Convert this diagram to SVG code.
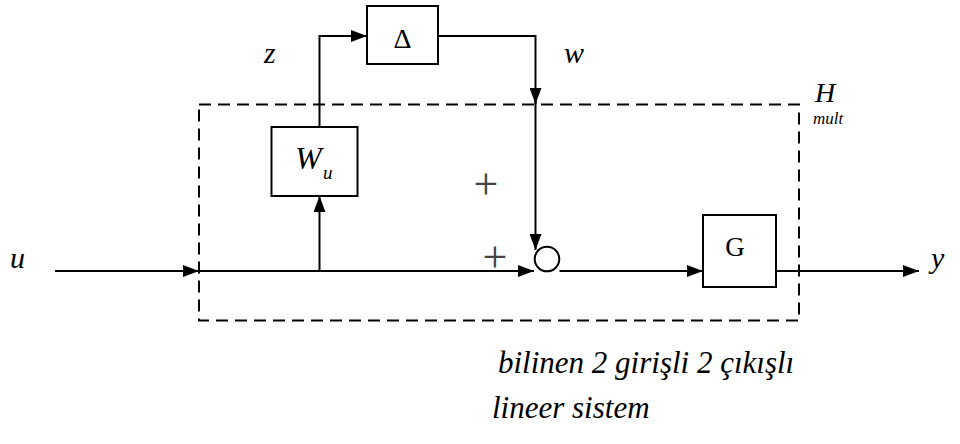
<svg xmlns="http://www.w3.org/2000/svg" width="960" height="444" viewBox="0 0 960 444">
<defs>
<marker id="ah" markerWidth="16" markerHeight="12" refX="16" refY="6" orient="auto" markerUnits="userSpaceOnUse">
<path d="M0,0 L16,6 L0,12 Z" fill="#000"/>
</marker>
<style>
.blk{fill:#fff;stroke:#000;stroke-width:2}
.ln{fill:none;stroke:#000;stroke-width:2}
text{font-family:'Liberation Serif','DejaVu Serif',serif;fill:#000}
.i{font-style:italic}
.pl{fill:#444}
</style>
</defs>
<rect width="960" height="444" fill="#fff"/>
<g id="boundary">
<rect x="199" y="104.5" width="600" height="216" fill="none" stroke="#000" stroke-width="2" stroke-dasharray="12,7"/>
<text class="i" x="815" y="102" style="font-size:28px">H</text>
<text class="i" x="813" y="124" style="font-size:17px">mult</text>
</g>
<g id="connectors">
<path class="ln" d="M55,271 H199" marker-end="url(#ah)"/>
<path class="ln" d="M199,271 H534" marker-end="url(#ah)"/>
<path class="ln" d="M319.5,271 V196" marker-end="url(#ah)"/>
<path class="ln" d="M319.5,127 V36 H367" marker-end="url(#ah)"/>
<path class="ln" d="M438,36 H535.5 V104" marker-end="url(#ah)"/>
<path class="ln" d="M535.5,100 V250" marker-end="url(#ah)"/>
<path class="ln" d="M559.5,271 H703" marker-end="url(#ah)"/>
<path class="ln" d="M776,271 H919" marker-end="url(#ah)"/>
</g>
<g id="delta">
<rect class="blk" x="367" y="6" width="71" height="58"/>
<text x="402.5" y="48" style="font-size:28px" text-anchor="middle">Δ</text>
</g>
<g id="wu">
<rect class="blk" x="271.5" y="127" width="86" height="69"/>
<text class="i" x="295" y="169" style="font-size:32px">W</text>
<text class="i" x="323" y="179" style="font-size:19px">u</text>
</g>
<g id="sum">
<circle cx="547" cy="259" r="12.3" class="blk"/>
<text class="pl" x="486" y="199" style="font-size:44px;font-weight:300" text-anchor="middle">+</text>
<text class="pl" x="495" y="272" style="font-size:44px;font-weight:300" text-anchor="middle">+</text>
</g>
<g id="g">
<rect class="blk" x="703" y="215" width="73" height="72"/>
<text x="735" y="256" style="font-size:27px" text-anchor="middle">G</text>
</g>
<g id="labels">
<text class="i" x="264" y="63" style="font-size:30px">z</text>
<text class="i" x="564" y="63" style="font-size:30px">w</text>
<text class="i" x="10" y="268" style="font-size:30px">u</text>
<text class="i" x="931" y="268" style="font-size:30px">y</text>
<text class="i" x="498" y="373" style="font-size:31px">bilinen 2 girişli 2 çıkışlı</text>
<text class="i" x="492" y="418" style="font-size:31px">lineer sistem</text>
</g>
</svg>
